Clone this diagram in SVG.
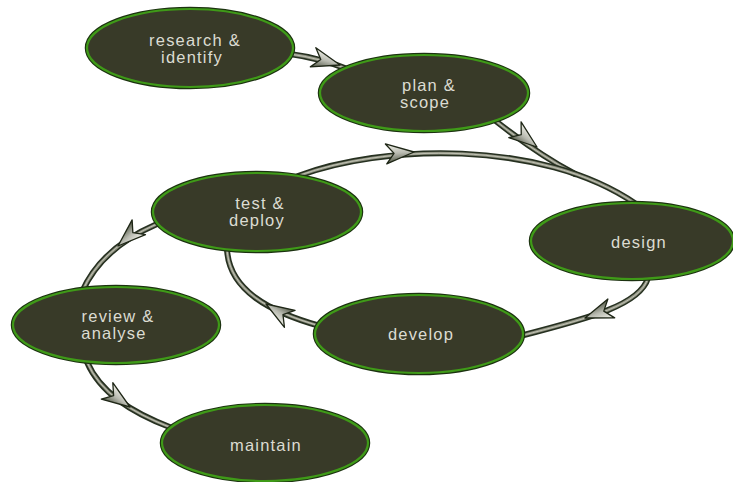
<svg xmlns="http://www.w3.org/2000/svg" width="733" height="482" viewBox="0 0 733 482">
  <style>
    .node-rim { fill: none; stroke: #1c3210; stroke-width: 4.5; }
    .node { fill: #383a28; stroke: #3f9a18; stroke-width: 2.2; }
    .label { font-family: "Liberation Sans", Arial, sans-serif; font-size: 16.5px; letter-spacing: 1.2px; fill: #dcdcd2; text-anchor: middle; }
    .tube-out { fill: none; stroke: #263020; stroke-width: 6; stroke-linecap: round; }
    .tube-in { fill: none; stroke: #8e9080; stroke-width: 2.8; stroke-linecap: round; }
    .tube-hi { fill: none; stroke: #c6c8ba; stroke-width: 0.9; stroke-linecap: round; }
    .head { fill: url(#headFill); stroke: #1e2616; stroke-width: 1.3; stroke-linejoin: round; }
  </style>
  <defs>
    <linearGradient id="headFill" x1="0" y1="0" x2="0" y2="1">
      <stop offset="0" stop-color="#f2f2ea"/>
      <stop offset="0.5" stop-color="#b8bab0"/>
      <stop offset="1" stop-color="#4e5442"/>
    </linearGradient>
    <!-- barbed arrowhead, tip at origin, pointing along +x -->
    <path id="arrowhead" d="M0,0 L-28,-10 L-20,0 L-28,10 Z"/>
  </defs>

  <g id="connectors">
    <!-- research -> plan -->
    <path class="tube-out" d="M290,54 Q320,58 350,70"/>
    <path class="tube-in" d="M290,54 Q320,58 350,70"/>
    <path class="tube-hi" d="M290,54 Q320,58 350,70"/>
    <!-- plan -> design (joins the loop arc) -->
    <path class="tube-out" d="M497,122 C520,140 545,158 575,174"/>
    <path class="tube-in" d="M497,122 C520,140 545,158 575,174"/>
    <path class="tube-hi" d="M497,122 C520,140 545,158 575,174"/>
    <!-- test & deploy -> design (loop arc) -->
    <path class="tube-out" d="M298,176 C380,145 540,138 636,204"/>
    <path class="tube-in" d="M298,176 C380,145 540,138 636,204"/>
    <path class="tube-hi" d="M298,176 C380,145 540,138 636,204"/>
    <!-- design -> develop -->
    <path class="tube-out" d="M648,278 C640,305 590,318 520,336"/>
    <path class="tube-in" d="M648,278 C640,305 590,318 520,336"/>
    <path class="tube-hi" d="M648,278 C640,305 590,318 520,336"/>
    <!-- develop -> test & deploy -->
    <path class="tube-out" d="M320,326 C270,312 228,290 227,248"/>
    <path class="tube-in" d="M320,326 C270,312 228,290 227,248"/>
    <path class="tube-hi" d="M320,326 C270,312 228,290 227,248"/>
    <!-- test & deploy -> review -->
    <path class="tube-out" d="M157,224 C120,240 95,262 82,292"/>
    <path class="tube-in" d="M157,224 C120,240 95,262 82,292"/>
    <path class="tube-hi" d="M157,224 C120,240 95,262 82,292"/>
    <!-- review -> maintain -->
    <path class="tube-out" d="M87,362 C100,392 130,412 172,428"/>
    <path class="tube-in" d="M87,362 C100,392 130,412 172,428"/>
    <path class="tube-hi" d="M87,362 C100,392 130,412 172,428"/>

    <use href="#arrowhead" class="head" transform="translate(340,65) rotate(16)"/>
    <use href="#arrowhead" class="head" transform="translate(537,147) rotate(38)"/>
    <use href="#arrowhead" class="head" transform="translate(414,152) rotate(-4)"/>
    <use href="#arrowhead" class="head" transform="translate(585,318) rotate(160)"/>
    <use href="#arrowhead" class="head" transform="translate(266,304) rotate(212)"/>
    <use href="#arrowhead" class="head" transform="translate(118,246) rotate(138)"/>
    <use href="#arrowhead" class="head" transform="translate(130,407) rotate(35)"/>
  </g>

  <g id="research-identify">
    <ellipse class="node-rim" cx="190" cy="48" rx="103" ry="39"/>
    <ellipse class="node" cx="190" cy="48" rx="103" ry="39"/>
    <text class="label" x="195" y="46">research &amp;</text>
    <text class="label" x="192" y="63">identify</text>
  </g>

  <g id="plan-scope">
    <ellipse class="node-rim" cx="424" cy="93" rx="104" ry="38"/>
    <ellipse class="node" cx="424" cy="93" rx="104" ry="38"/>
    <text class="label" x="429" y="91">plan &amp;</text>
    <text class="label" x="425" y="108">scope</text>
  </g>

  <g id="design">
    <ellipse class="node-rim" cx="632" cy="241" rx="101" ry="38"/>
    <ellipse class="node" cx="632" cy="241" rx="101" ry="38"/>
    <text class="label" x="639" y="248">design</text>
  </g>

  <g id="test-deploy">
    <ellipse class="node-rim" cx="257" cy="212" rx="104" ry="39"/>
    <ellipse class="node" cx="257" cy="212" rx="104" ry="39"/>
    <text class="label" x="260" y="209">test &amp;</text>
    <text class="label" x="257" y="226">deploy</text>
  </g>

  <g id="develop">
    <ellipse class="node-rim" cx="419" cy="334" rx="104" ry="39"/>
    <ellipse class="node" cx="419" cy="334" rx="104" ry="39"/>
    <text class="label" x="421" y="340">develop</text>
  </g>

  <g id="review-analyse">
    <ellipse class="node-rim" cx="116" cy="325" rx="103" ry="38"/>
    <ellipse class="node" cx="116" cy="325" rx="103" ry="38"/>
    <text class="label" x="118" y="322">review &amp;</text>
    <text class="label" x="114" y="339">analyse</text>
  </g>

  <g id="maintain">
    <ellipse class="node-rim" cx="265" cy="443" rx="103" ry="38"/>
    <ellipse class="node" cx="265" cy="443" rx="103" ry="38"/>
    <text class="label" x="266" y="451">maintain</text>
  </g>
</svg>
